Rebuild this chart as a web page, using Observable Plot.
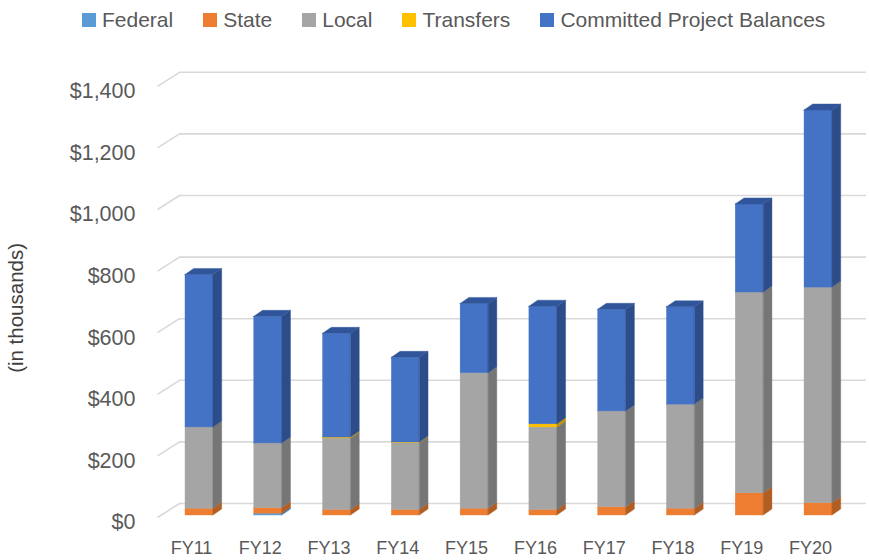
<!DOCTYPE html>
<html><head><meta charset="utf-8">
<script src="https://cdn.jsdelivr.net/npm/d3@7"></script>
<script src="https://cdn.jsdelivr.net/npm/@observablehq/plot@0.6"></script>
<style>
body{margin:0;background:#fff;font-family:"Liberation Sans",Arial,sans-serif;}
#legend{height:40px;display:flex;align-items:center;padding-left:82px;box-sizing:border-box;}
.item{display:flex;align-items:center;margin-right:30px;font-size:21px;color:#595959;white-space:nowrap;}
.sw{width:14px;height:14px;margin-right:6px;}
</style></head><body>
<div id="legend"></div>
<div id="chart"></div>
<script>
// ---- data (in thousands of dollars) ----
const years = ["FY11","FY12","FY13","FY14","FY15","FY16","FY17","FY18","FY19","FY20"];
const federal   = [0, 6, 0, 0, 0, 0, 0, 0, 0, 0];
const state     = [22, 18, 18, 18, 22, 18, 27, 22, 72, 40];
const local     = [264, 210, 232, 217, 440, 268, 311, 338, 652, 700];
const transfers = [0, 0, 3, 2, 0, 10, 0, 0, 0, 0];
const committed = [495, 411, 337, 275, 225, 382, 330, 316, 286, 575];
const seriesNames = ["Federal","State","Local","Transfers","Committed Project Balances"];
const yTicks = [0, 200, 400, 600, 800, 1000, 1200, 1400];

// ---- styling ----
const frontColors = ["#5B9BD5","#ED7D31","#A5A5A5","#FFC000","#4472C4"];
const sideColors  = ["#3F78AE","#B25E22","#767676","#C29200","#2C4D8A"];
const topColor = "#30559B";
const seriesValues = [federal, state, local, transfers, committed];

// legend
const lg = d3.select("#legend");
seriesNames.forEach((n, k) => {
  const it = lg.append("div").attr("class","item");
  it.append("div").attr("class","sw").style("background", frontColors[k]);
  it.append("span").text(n);
});

// geometry (pixel based constants converted to data units)
const W = 869, H = 520, ML = 150, MR = 0, MT = 43.8, MB = 45;
const xDomain = [-0.7124, 9.741];
const pxX = (xDomain[1] - xDomain[0]) / (W - ML - MR);   // x units per px
const pxY = 1400 / (H - MB - MT);                          // y units per px
const HW = 14 * pxX, D = 8.7 * pxX, R = 6 * pxY;
const backDY = 12 * pxY;

// segments
const segs = [];
years.forEach((yr, i) => {
  let cum = 0;
  seriesValues.forEach((arr, k) => {
    const v = arr[i];
    if (v > 0) segs.push({i, k, y1: cum, y2: cum + v, id: i + "-" + k});
    cum += v;
  });
});
const tops = years.map((yr, i) => d3.sum(seriesValues, a => a[i]));

const sidePts = segs.flatMap(s => [
  {id: s.id, k: s.k, x: s.i + HW, lo: s.y1, hi: s.y2},
  {id: s.id, k: s.k, x: s.i + HW + D, lo: s.y1 + R, hi: s.y2 + R}
]);
const topPts = tops.flatMap((T, i) => {
  const a = i - HW, b = i + HW;
  return [
    {id: i, x: a, lo: T, hi: T},
    {id: i, x: a + D, lo: T, hi: T + R},
    {id: i, x: b, lo: T, hi: T + R},
    {id: i, x: b + D, lo: T + R, hi: T + R}
  ];
});

const gx1 = -0.2908, gx2 = 9.698, dx1 = -0.6106;

const marks = [
  Plot.ruleY(yTicks, {y: d => d + backDY, x1: gx1, x2: gx2, stroke: "#d9d9d9", strokeWidth: 1.6}),
  Plot.link(yTicks, {x1: dx1, x2: gx1, y1: d => d - 2 * pxY, y2: d => d + backDY, stroke: "#d9d9d9", strokeWidth: 1.6}),
];
seriesNames.forEach((n, k) => {
  marks.push(Plot.rect(segs.filter(s => s.k === k), {x1: d => d.i - HW, x2: d => d.i + HW, y1: "y1", y2: "y2", fill: frontColors[k], stroke: frontColors[k], strokeWidth: 0.4}));
  marks.push(Plot.areaY(sidePts.filter(p => p.k === k), {x: "x", y1: "lo", y2: "hi", z: "id", fill: sideColors[k], stroke: sideColors[k], strokeWidth: 0.4, curve: "linear"}));
});
marks.push(Plot.areaY(topPts, {x: "x", y1: "lo", y2: "hi", z: "id", fill: topColor, stroke: topColor, strokeWidth: 0.4, curve: "linear"}));
marks.push(Plot.text(yTicks, {y: d => d, frameAnchor: "left", textAnchor: "end", dx: -15, dy: 7, text: d => "$" + d3.format(",")(d), fontSize: 21.5, fill: "#595959"}));
marks.push(Plot.text(years, {x: (d, i) => i, frameAnchor: "bottom", dx: -8, dy: 38, text: d => d, fontSize: 18, fill: "#595959"}));
marks.push(Plot.text(["(in thousands)"], {frameAnchor: "left", textAnchor: "middle", dx: -134, dy: 8, rotate: -90, text: d => d, fontSize: 20.5, fill: "#404040"}));

const chart = Plot.plot({
  width: W, height: H,
  marginLeft: ML, marginRight: MR, marginTop: MT, marginBottom: MB,
  x: {domain: xDomain, axis: null},
  y: {domain: [0, 1400], axis: null},
  style: {fontFamily: "Liberation Sans, Arial, sans-serif", background: "#fff", overflow: "visible"},
  marks
});
document.getElementById("chart").appendChild(chart);
</script>
</body></html>
